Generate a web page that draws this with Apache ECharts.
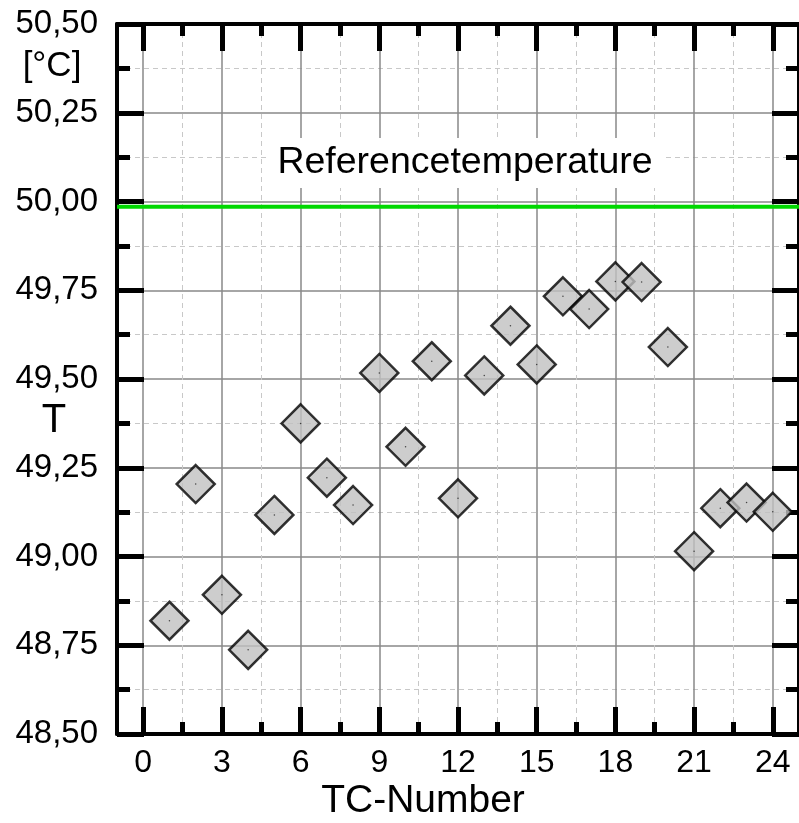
<!DOCTYPE html>
<html>
<head>
<meta charset="utf-8">
<script src="https://cdn.jsdelivr.net/npm/echarts@6/dist/echarts.min.js"></script>
<style>
  html, body { margin: 0; padding: 0; background: #fff; }
  #chart { width: 799px; height: 823px; }
</style>
</head>
<body>
<div id="chart"></div>
<script>
// data ==========================================
const tcNumbers = [1, 2, 3, 4, 5, 6, 7, 8, 9, 10, 11, 12, 13, 14, 15, 16, 17, 18, 19, 20, 21, 22, 23, 24];
const temperatures = [48.819, 49.204, 48.892, 48.737, 49.117, 49.375, 49.222, 49.145, 49.517, 49.309, 49.550, 49.164,
    49.510, 49.650, 49.541, 49.733, 49.697, 49.775, 49.773, 49.590, 49.015, 49.136, 49.152, 49.126];
const refTemp = 49.985;
const xMajorTicks = [0, 3, 6, 9, 12, 15, 18, 21, 24];
const xMinorTicks = [1.5, 4.5, 7.5, 10.5, 13.5, 16.5, 19.5, 22.5];
const xRange = [-1, 25];
const yRange = [48.5, 50.5];

const FONT = "'Liberation Sans', Arial, sans-serif";
const points = tcNumbers.map((n, i) => [n, temperatures[i]]);

function fmtComma(v) {
    return v.toFixed(2).replace('.', ',');
}

// 主刻度 / 次刻度轴
function xAxisDef(position, ticks, major) {
    return {
        type: 'value', position: position, min: xRange[0], max: xRange[1],
        axisLine: { show: major, onZero: false, lineStyle: { color: '#000', width: 4 } },
        axisTick: {
            show: true, inside: true, customValues: ticks,
            length: major ? 27 : 12,
            lineStyle: { color: '#000', width: 5 }
        },
        axisLabel: {
            show: major && position === 'bottom', customValues: ticks, margin: 13,
            color: '#000', fontSize: 32, fontFamily: FONT
        },
        splitLine: {
            show: position === 'bottom',
            lineStyle: major ? { color: '#888', width: 1.5 } : { color: '#c8c8c8', width: 1, type: [5, 4] }
        }
    };
}

function yAxisDef(position) {
    return {
        type: 'value', position: position, min: yRange[0], max: yRange[1], interval: 0.25,
        axisLine: { show: true, onZero: false, lineStyle: { color: '#000', width: 4 } },
        axisTick: { show: true, inside: true, length: 27, lineStyle: { color: '#000', width: 5 } },
        minorTick: { show: true, splitNumber: 2, length: 13, lineStyle: { color: '#000', width: 5 } },
        axisLabel: {
            show: position === 'left', margin: 19, color: '#000', fontSize: 33, fontFamily: FONT,
            formatter: fmtComma
        },
        splitLine: { show: position === 'left', lineStyle: { color: '#888', width: 1.5 } },
        minorSplitLine: { show: position === 'left', lineStyle: { color: '#c8c8c8', width: 1, type: [5, 4] } }
    };
}

const chart = echarts.init(document.getElementById('chart'), null, { renderer: 'canvas' });

const option = {
    animation: false,
    backgroundColor: '#fff',
    grid: { left: 117, right: -6, top: 24, bottom: 89, containLabel: false },
    xAxis: [
        xAxisDef('bottom', xMajorTicks, true),
        xAxisDef('bottom', xMinorTicks, false),
        xAxisDef('top', xMajorTicks, true),
        xAxisDef('top', xMinorTicks, false)
    ],
    yAxis: [yAxisDef('left'), yAxisDef('right')],
    series: [
        {
            type: 'line',
            data: [[xRange[0], refTemp], [xRange[1], refTemp]],
            showSymbol: false,
            lineStyle: { color: '#00d800', width: 4 },
            z: 3
        },
        {
            type: 'scatter',
            data: points,
            symbol: 'diamond',
            symbolSize: 38,
            itemStyle: { color: '#c0c0c0', borderColor: '#000', borderWidth: 2.5 },
            z: 4
        },
        {
            type: 'scatter',
            data: points,
            symbol: 'circle',
            symbolSize: 1.5,
            itemStyle: { color: '#222' },
            silent: true,
            z: 5
        }
    ],
    graphic: [
        {
            type: 'text', z: 10,
            style: {
                x: 465, y: 163, text: 'Referencetemperature', align: 'center', verticalAlign: 'middle',
                font: '37.5px ' + FONT, fill: '#000',
                backgroundColor: '#fff', padding: [6, 10]
            }
        },
        {
            type: 'text', z: 10,
            style: { x: 52, y: 66, text: '[°C]', align: 'center', verticalAlign: 'middle', font: '35px ' + FONT, fill: '#000' }
        },
        {
            type: 'text', z: 10,
            style: { x: 54, y: 421, text: 'T', align: 'center', verticalAlign: 'middle', font: '40px ' + FONT, fill: '#000' }
        },
        {
            type: 'text', z: 10,
            style: { x: 423, y: 801, text: 'TC-Number', align: 'center', verticalAlign: 'middle', font: '39px ' + FONT, fill: '#000' }
        }
    ]
};
chart.setOption(option);
window.addEventListener('resize', () => chart.resize());
</script>
</body>
</html>
